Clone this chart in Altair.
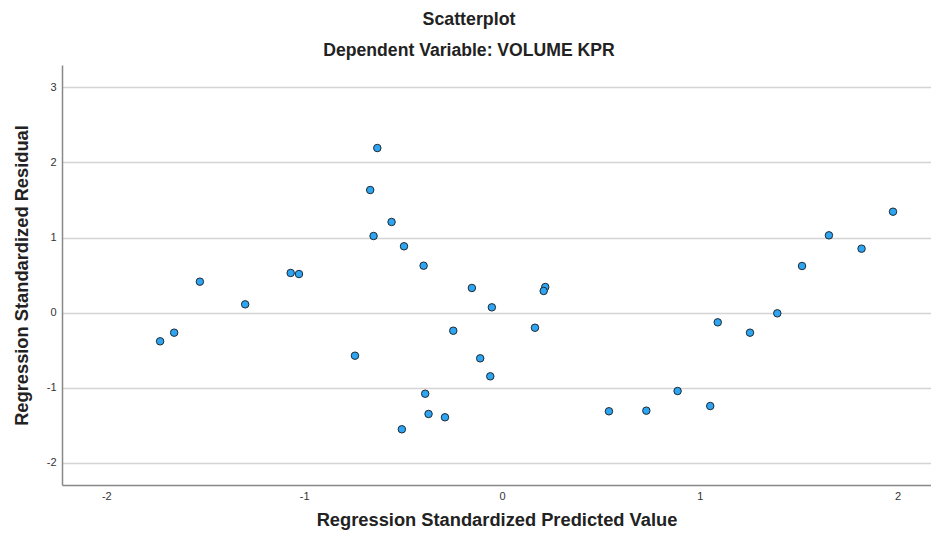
import altair as alt
import pandas as pd

predicted = [-0.630, -0.666, -0.558, -0.649, -0.495, -0.396, -0.152, -0.051,
             -1.527, -1.298, -1.068, -1.026, -1.657, -1.728, -0.743, -0.246,
             -0.110, -0.059, -0.388, -0.371, -0.288, -0.506,
             1.977, 1.653, 1.818, 1.517, 0.219, 0.211, 0.167, 1.091,
             1.254, 1.392, 0.888, 0.541, 0.730, 1.053]
residual = [2.193, 1.633, 1.207, 1.020, 0.883, 0.624, 0.327, 0.069,
            0.411, 0.109, 0.527, 0.513, -0.269, -0.384, -0.576, -0.243,
            -0.611, -0.851, -1.083, -1.353, -1.397, -1.557,
            1.344, 1.029, 0.851, 0.620, 0.340, 0.287, -0.203, -0.131,
            -0.269, -0.011, -1.047, -1.317, -1.309, -1.247]

x_ticks = [-2, -1, 0, 1, 2]
y_ticks = [-2, -1, 0, 1, 2, 3]

df = pd.DataFrame({"pred": predicted, "resid": residual})

FONT = "Liberation Sans"

chart = alt.Chart(df).mark_circle(
    size=56, color="#2ea5f2", opacity=1, stroke="#1f2a33", strokeWidth=1
).encode(
    x=alt.X("pred:Q",
            scale=alt.Scale(domain=[-2.224, 2.169], nice=False, zero=False),
            axis=alt.Axis(title="Regression Standardized Predicted Value",
                          values=x_ticks, grid=False, ticks=False,
                          labelExpr="datum.value",
                          labelPadding=5, titlePadding=10,
                          domainColor="#888888", domainWidth=1.5)),
    y=alt.Y("resid:Q",
            scale=alt.Scale(domain=[-2.3, 3.3], nice=False, zero=False),
            axis=alt.Axis(title="Regression Standardized Residual",
                          values=y_ticks, grid=True, gridColor="#d4d4d4",
                          gridWidth=1.5, ticks=False, labelPadding=6,
                          labelExpr="datum.value",
                          titlePadding=15,
                          domainColor="#888888", domainWidth=1.5)),
).properties(
    width=869, height=420,
    title=alt.TitleParams(
        text="Scatterplot",
        subtitle="Dependent Variable: VOLUME KPR",
        font=FONT, fontSize=17.8, fontWeight="bold", color="#222222",
        subtitleFont=FONT, subtitleFontSize=17.6, subtitleFontWeight="bold",
        subtitleColor="#222222", subtitlePadding=14, anchor="middle",
        frame="group", dx=-27.5, offset=5,
    ),
    autosize=alt.AutoSizeParams(type="none"),
    padding={"left": 54, "top": 57, "right": 0, "bottom": 46},
).configure_axis(
    labelFont=FONT, labelFontSize=11, labelColor="#333333",
    titleFont=FONT, titleFontSize=18.3, titleFontWeight="bold",
    titleColor="#222222",
).configure_view(stroke=None)

chart.save("out.html", embed_options={"renderer": "svg", "actions": False})
